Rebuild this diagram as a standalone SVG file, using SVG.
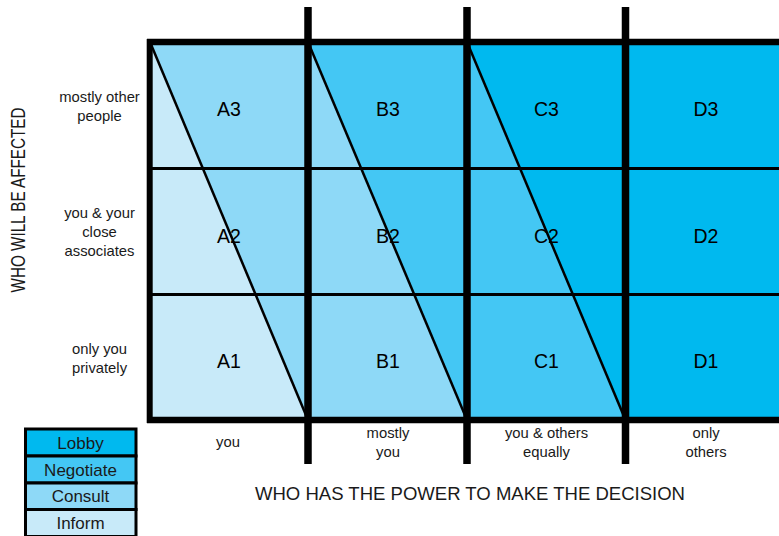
<svg xmlns="http://www.w3.org/2000/svg" width="779" height="536" viewBox="0 0 779 536">
<style>
.inform{fill:#C8EAF9}
.consult{fill:#8ED9F7}
.negotiate{fill:#44C7F4}
.lobby{fill:#00B9EF}
.frame{stroke:#000;fill:none}
.thick{stroke-width:6.5}
.div{stroke-width:7.5}
.thin{stroke-width:3}
.diag{stroke-width:2.5}
text{font-family:"Liberation Sans",Arial,sans-serif;fill:#1a1a1a;text-anchor:middle}
.cell{font-size:19.5px;fill:#000}
.lab{font-size:14.8px}
.leg{font-size:17px}
.axis{font-size:18.5px}
.yaxis{font-size:20px}
.legbox{stroke:#000;stroke-width:3}
</style>
<rect width="779" height="536" fill="#fff"/>
<g id="fills">
<polygon class="inform" points="150,42 308,420 150,420"/>
<polygon class="consult" points="150,42 308,42 308,420"/>
<polygon class="consult" points="308,42 467,420 308,420"/>
<polygon class="negotiate" points="308,42 467,42 467,420"/>
<polygon class="negotiate" points="467,42 625.5,420 467,420"/>
<polygon class="lobby" points="467,42 625.5,42 625.5,420"/>
<rect class="lobby" x="625.5" y="42" width="160" height="378"/>
</g>
<g id="connectors">
<line class="frame diag" x1="150" y1="42" x2="308" y2="420"/>
<line class="frame diag" x1="308" y1="42" x2="467" y2="420"/>
<line class="frame diag" x1="467" y1="42" x2="625.5" y2="420"/>
<line class="frame thin" x1="150" y1="168.5" x2="779" y2="168.5"/>
<line class="frame thin" x1="150" y1="294.5" x2="779" y2="294.5"/>
<line class="frame thick" x1="147" y1="42" x2="779" y2="42"/>
<line class="frame thick" x1="147" y1="420" x2="779" y2="420"/>
<line class="frame" stroke-width="6" x1="149.7" y1="39" x2="149.7" y2="423"/>
<line class="frame div" x1="308" y1="7" x2="308" y2="464"/>
<line class="frame div" x1="467" y1="7" x2="467" y2="464"/>
<line class="frame div" x1="625.5" y1="7" x2="625.5" y2="464"/>
</g>
<g id="A3"><text class="cell" x="229" y="116">A3</text></g>
<g id="A2"><text class="cell" x="229" y="242.5">A2</text></g>
<g id="A1"><text class="cell" x="229" y="368">A1</text></g>
<g id="B3"><text class="cell" x="388" y="116">B3</text></g>
<g id="B2"><text class="cell" x="388" y="242.5">B2</text></g>
<g id="B1"><text class="cell" x="388" y="368">B1</text></g>
<g id="C3"><text class="cell" x="546.5" y="116">C3</text></g>
<g id="C2"><text class="cell" x="546.5" y="242.5">C2</text></g>
<g id="C1"><text class="cell" x="546.5" y="368">C1</text></g>
<g id="D3"><text class="cell" x="706" y="116">D3</text></g>
<g id="D2"><text class="cell" x="706" y="242.5">D2</text></g>
<g id="D1"><text class="cell" x="706" y="368">D1</text></g>
<g id="row-labels">
<text class="lab" x="99.5" y="102">mostly other</text>
<text class="lab" x="99.5" y="121">people</text>
<text class="lab" x="99.5" y="217.5">you &amp; your</text>
<text class="lab" x="99.5" y="236.5">close</text>
<text class="lab" x="99.5" y="255.5">associates</text>
<text class="lab" x="99.5" y="353.5">only you</text>
<text class="lab" x="99.5" y="372.5">privately</text>
</g>
<g id="col-labels">
<text class="lab" x="228" y="446.5">you</text>
<text class="lab" x="388" y="438">mostly</text>
<text class="lab" x="388" y="457">you</text>
<text class="lab" x="546.5" y="438">you &amp; others</text>
<text class="lab" x="546.5" y="457">equally</text>
<text class="lab" x="706" y="438">only</text>
<text class="lab" x="706" y="457">others</text>
</g>
<g id="axis-x"><text class="axis" x="470" y="500" textLength="430" lengthAdjust="spacingAndGlyphs">WHO HAS THE POWER TO MAKE THE DECISION</text></g>
<g id="axis-y"><text class="yaxis" transform="translate(25,200) rotate(-90)" x="0" y="0" textLength="185" lengthAdjust="spacingAndGlyphs">WHO WILL BE AFFECTED</text></g>
<g id="legend">
<rect class="lobby legbox" x="25.5" y="429" width="110.5" height="27"/>
<rect class="negotiate legbox" x="25.5" y="456" width="110.5" height="27"/>
<rect class="consult legbox" x="25.5" y="483" width="110.5" height="26.5"/>
<rect class="inform legbox" x="25.5" y="509.5" width="110.5" height="27"/>
<text class="leg" x="80.5" y="448.5">Lobby</text>
<text class="leg" x="80.5" y="475.5">Negotiate</text>
<text class="leg" x="80.5" y="502">Consult</text>
<text class="leg" x="80.5" y="529">Inform</text>
</g>
</svg>
